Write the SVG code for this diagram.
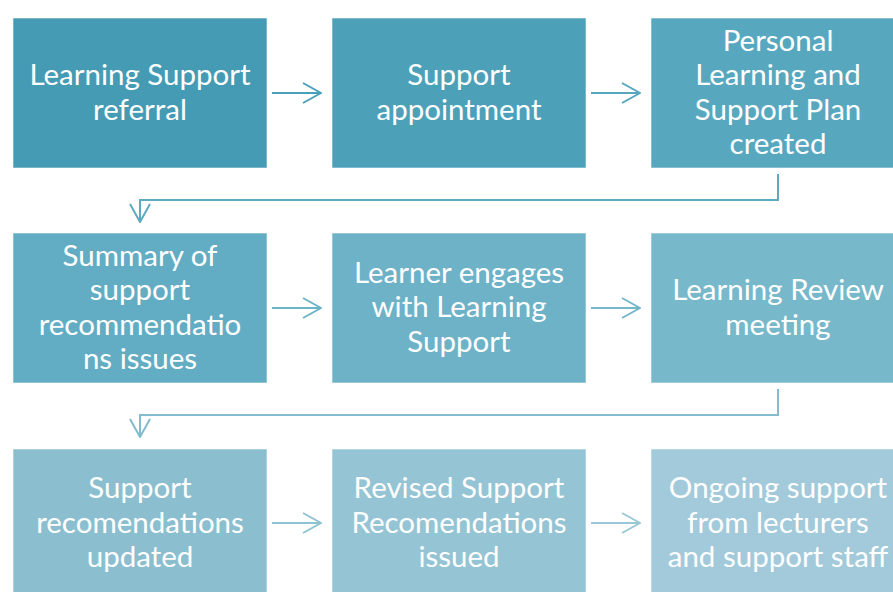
<svg xmlns="http://www.w3.org/2000/svg" width="893" height="592" viewBox="0 0 893 592">
  <style>
    .box { stroke: #ffffff; stroke-opacity: 0.55; stroke-width: 1; }
    .lbl { font-family: Lato, "Open Sans", "Liberation Sans", sans-serif; font-size: 29.5px; fill: #ffffff; text-anchor: middle; }
    .con { fill: none; stroke-width: 2; }
  </style>
  <defs>
    <marker id="ah1" viewBox="0 0 20 22" refX="19" refY="11" markerWidth="20" markerHeight="22" markerUnits="userSpaceOnUse" orient="auto"><path d="M1,1 L19,11 L1,21" fill="none" stroke="#4AA0B8" stroke-width="2"/></marker>
    <marker id="ah2" viewBox="0 0 20 22" refX="19" refY="11" markerWidth="20" markerHeight="22" markerUnits="userSpaceOnUse" orient="auto"><path d="M1,1 L19,11 L1,21" fill="none" stroke="#55A7BD" stroke-width="2"/></marker>
    <marker id="ah3" viewBox="0 0 20 22" refX="19" refY="11" markerWidth="20" markerHeight="22" markerUnits="userSpaceOnUse" orient="auto"><path d="M1,1 L19,11 L1,21" fill="none" stroke="#5EABC1" stroke-width="2"/></marker>
    <marker id="ah4" viewBox="0 0 20 22" refX="19" refY="11" markerWidth="20" markerHeight="22" markerUnits="userSpaceOnUse" orient="auto"><path d="M1,1 L19,11 L1,21" fill="none" stroke="#6BB3C6" stroke-width="2"/></marker>
    <marker id="ah5" viewBox="0 0 20 22" refX="19" refY="11" markerWidth="20" markerHeight="22" markerUnits="userSpaceOnUse" orient="auto"><path d="M1,1 L19,11 L1,21" fill="none" stroke="#76B7CA" stroke-width="2"/></marker>
    <marker id="ah6" viewBox="0 0 20 22" refX="19" refY="11" markerWidth="20" markerHeight="22" markerUnits="userSpaceOnUse" orient="auto"><path d="M1,1 L19,11 L1,21" fill="none" stroke="#82BCCE" stroke-width="2"/></marker>
    <marker id="ah7" viewBox="0 0 20 22" refX="19" refY="11" markerWidth="20" markerHeight="22" markerUnits="userSpaceOnUse" orient="auto"><path d="M1,1 L19,11 L1,21" fill="none" stroke="#8FC2D2" stroke-width="2"/></marker>
    <marker id="ah8" viewBox="0 0 20 22" refX="19" refY="11" markerWidth="20" markerHeight="22" markerUnits="userSpaceOnUse" orient="auto"><path d="M1,1 L19,11 L1,21" fill="none" stroke="#9BC8D7" stroke-width="2"/></marker>
  </defs>

  <rect width="893" height="592" fill="#ffffff"/>

  <!-- connectors -->
  <g id="connectors">
    <path class="con" stroke="#4AA0B8" d="M272,93 H321" marker-end="url(#ah1)"/>
    <path class="con" stroke="#55A7BD" d="M591,93 H640" marker-end="url(#ah2)"/>
    <path class="con" stroke="#5EABC1" d="M778,174 V200 H140 V222" marker-end="url(#ah3)"/>
    <path class="con" stroke="#6BB3C6" d="M272,308 H321" marker-end="url(#ah4)"/>
    <path class="con" stroke="#76B7CA" d="M591,308 H640" marker-end="url(#ah5)"/>
    <path class="con" stroke="#82BCCE" d="M778,389 V415 H140 V437" marker-end="url(#ah6)"/>
    <path class="con" stroke="#8FC2D2" d="M272,523 H321" marker-end="url(#ah7)"/>
    <path class="con" stroke="#9BC8D7" d="M591,523 H640" marker-end="url(#ah8)"/>
  </g>

  <!-- row 1 -->
  <g id="referral">
    <rect class="box" x="13" y="18" width="254" height="150" fill="#459BB4"/>
    <text class="lbl" x="140" y="85">Learning Support</text>
    <text class="lbl" x="140" y="119.5">referral</text>
  </g>
  <g id="appointment">
    <rect class="box" x="332" y="18" width="254" height="150" fill="#4CA1B9"/>
    <text class="lbl" x="459" y="85">Support</text>
    <text class="lbl" x="459" y="119.5">appointment</text>
  </g>
  <g id="plan">
    <rect class="box" x="651" y="18" width="254" height="150" fill="#57A8BF"/>
    <text class="lbl" x="778" y="50.5">Personal</text>
    <text class="lbl" x="778" y="85">Learning and</text>
    <text class="lbl" x="778" y="119.5">Support Plan</text>
    <text class="lbl" x="778" y="154">created</text>
  </g>

  <!-- row 2 -->
  <g id="summary">
    <rect class="box" x="13" y="233" width="254" height="150" fill="#62ADC3"/>
    <text class="lbl" x="140" y="265.5">Summary of</text>
    <text class="lbl" x="140" y="300">support</text>
    <text class="lbl" x="140" y="334.5">recommendatio</text>
    <text class="lbl" x="140" y="369">ns issues</text>
  </g>
  <g id="engages">
    <rect class="box" x="332" y="233" width="254" height="150" fill="#6DB2C7"/>
    <text class="lbl" x="459" y="282.5">Learner engages</text>
    <text class="lbl" x="459" y="317">with Learning</text>
    <text class="lbl" x="459" y="351.5">Support</text>
  </g>
  <g id="review">
    <rect class="box" x="651" y="233" width="254" height="150" fill="#78B8CB"/>
    <text class="lbl" x="778" y="300">Learning Review</text>
    <text class="lbl" x="778" y="334.5">meeting</text>
  </g>

  <!-- row 3 -->
  <g id="updated">
    <rect class="box" x="13" y="449" width="254" height="150" fill="#8BBECF"/>
    <text class="lbl" x="140" y="498">Support</text>
    <text class="lbl" x="140" y="532.5">recomendations</text>
    <text class="lbl" x="140" y="567">updated</text>
  </g>
  <g id="revised">
    <rect class="box" x="332" y="449" width="254" height="150" fill="#95C4D4"/>
    <text class="lbl" x="459" y="498">Revised Support</text>
    <text class="lbl" x="459" y="532.5">Recomendations</text>
    <text class="lbl" x="459" y="567">issued</text>
  </g>
  <g id="ongoing">
    <rect class="box" x="651" y="449" width="254" height="150" fill="#A2CADA"/>
    <text class="lbl" x="778" y="498">Ongoing support</text>
    <text class="lbl" x="778" y="532.5">from lecturers</text>
    <text class="lbl" x="778" y="567">and support staff</text>
  </g>
</svg>
